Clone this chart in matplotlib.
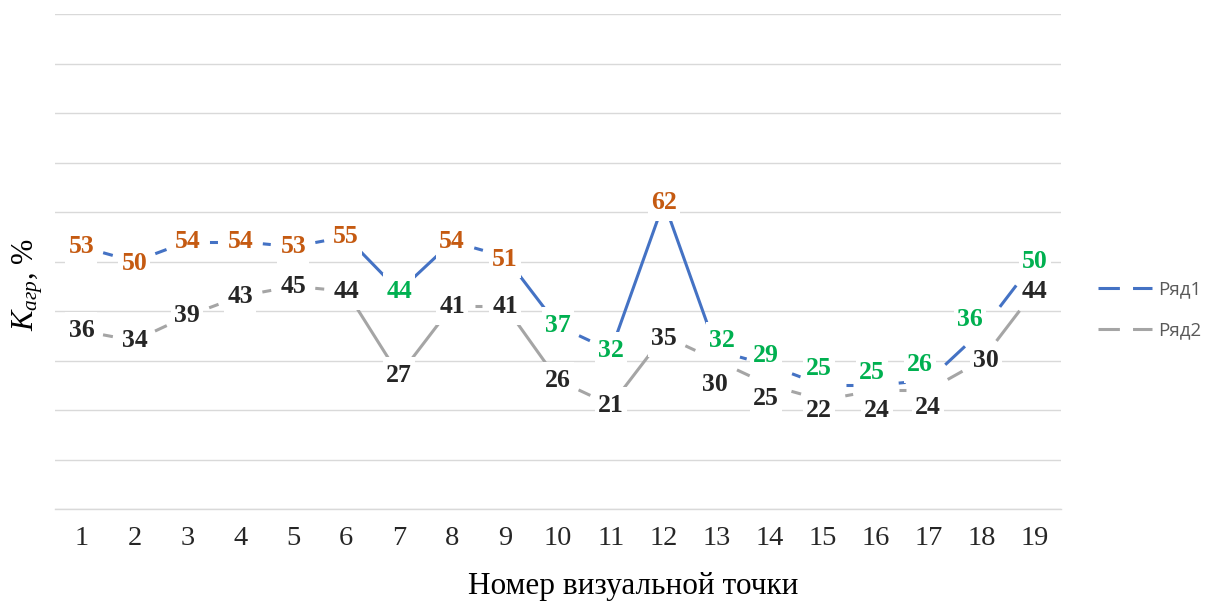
import matplotlib
matplotlib.use("Agg")
import numpy as np
import matplotlib.pyplot as plt
import matplotlib.transforms as mtransforms
from matplotlib.lines import Line2D
from matplotlib.patches import Rectangle

points = list(range(1, 20))
series1 = [53, 50, 54, 54, 53, 55, 44, 54, 51, 37, 32, 62, 32, 29, 25, 25, 26, 36, 50]
series2 = [36, 34, 39, 43, 45, 44, 27, 41, 41, 26, 21, 35, 30, 25, 22, 24, 24, 30, 44]
label_color1 = ["o", "o", "o", "o", "o", "o", "g", "o", "o", "g", "g", "o", "g", "g", "g", "g", "g", "g", "g"]
series_names = ["Ряд1", "Ряд2"]
# segment style: 0 = solid, otherwise length (px) of the single dash visible mid-segment
seg1 = [10, 12, 8, 8, 9, 0, 0, 9, 0, 12, 0, 0, 7, 9, 7, 7, 27, 27]
seg2 = [10, 13, 10, 9, 9, 0, 0, 7, 0, 13, 0, 11, 14, 10, 8, 7, 17, 38]
# manual data-label shifts (pixels, +y = up), keyed by point number
shift1 = {2: (0, -2), 9: (0, -3), 13: (5, 10), 14: (-4, 10), 15: (-4, 17), 16: (-4, 13), 17: (-9, 16), 18: (-12, 11)}
shift2 = {12: (0, -3), 13: (-2, -24), 14: (-4, -13), 15: (-4, -10), 16: (1, -20), 17: (-1, -17), 18: (4, 0)}

plt.rcParams["mathtext.fontset"] = "custom"
plt.rcParams["mathtext.rm"] = "Liberation Serif"
plt.rcParams["mathtext.it"] = "Liberation Serif:italic"

fig = plt.figure(figsize=(12.1, 6.05), dpi=100)
ax = fig.add_axes([55 / 1210, 96 / 605, 1006 / 1210, 495 / 605])

BLUE = "#4472C4"
GRAY = "#A5A5A5"
ORANGE = "#C55A11"
GREEN = "#00B050"
DARK = "#262626"
cmap = {"o": ORANGE, "g": GREEN}
LEG_DASH = (7, 4.3)
LW = 2.2
PX = 0.72  # points per pixel at 100 dpi
BOX_W, BOX_H = 32, 37  # label background size in pixels

ax.set_xlim(0.5, 19.5)
ax.set_ylim(0, 100)

def draw(vals, segs, color):
    f = PX / LW  # pixels -> dash units
    for i in range(len(vals) - 1):
        xs, ys = points[i:i + 2], vals[i:i + 2]
        kw = dict(color=color, lw=LW, solid_capstyle="butt", dash_capstyle="butt", zorder=3)
        d = segs[i]
        if d == 0:
            ax.plot(xs, ys, linestyle="-", **kw)
        else:
            p = ax.transData.transform(np.column_stack([xs, ys]))
            L = float(np.hypot(*(p[1] - p[0])))
            on, off = d * f, 1000.0
            s = (L / 2 - d / 2) * f
            ax.plot(xs, ys, linestyle=(on + off - s, (on, off)), **kw)

draw(series1, seg1, BLUE)
draw(series2, seg2, GRAY)

font_lbl = dict(family="Liberation Serif", fontsize=18.5, fontweight="bold")

def labels(vals, colors, shifts):
    for x, v, c in zip(points, vals, colors):
        dx, dy = shifts.get(x, (0, 0))
        tr = mtransforms.Affine2D().translate(dx, dy) + mtransforms.ScaledTranslation(x, v, ax.transData)
        ax.add_patch(Rectangle((-BOX_W / 2, -BOX_H / 2), BOX_W, BOX_H, transform=tr,
                               fc="white", ec="none", zorder=4, clip_on=False))
        ax.annotate(str(v), (x, v), xytext=(dx * PX, dy * PX), textcoords="offset points",
                    ha="center", va="center", color=c, zorder=5, **font_lbl)

labels(series1, [cmap[c] for c in label_color1], shift1)
labels(series2, [DARK] * len(series2), shift2)

ax.set_yticks(range(0, 101, 10))
ax.set_yticklabels([])
ax.tick_params(axis="y", length=0)
ax.grid(axis="y", color="#D9D9D9", lw=1, zorder=0)
ax.set_axisbelow(True)
ax.set_xticks(points)
ax.set_xticklabels([str(p) for p in points], family="Liberation Serif", fontsize=20.5, color=DARK)
ax.tick_params(axis="x", length=0, pad=12.5)
for s in ["top", "right", "left"]:
    ax.spines[s].set_visible(False)
ax.spines["bottom"].set_color("#D9D9D9")
ax.spines["bottom"].set_linewidth(1)

fig.text(633 / 1210, 1 - 594 / 605, "Номер визуальной точки", ha="center", va="baseline",
         family="Liberation Serif", fontsize=22.5, color="black")
fig.text(28 / 1210, 1 - 285 / 605, r"$K_{агр}$, %", rotation=90, ha="center", va="center",
         family="Liberation Serif", fontsize=22)

handles = [Line2D([], [], color=BLUE, lw=LW, linestyle=(0, LEG_DASH)),
           Line2D([], [], color=GRAY, lw=LW, linestyle=(0, LEG_DASH))]
fig.legend(handles, series_names, loc="center left", bbox_to_anchor=(1098 / 1210, 1 - 310 / 605),
           frameon=False, handlelength=2.9, handletextpad=0.3, labelspacing=1.25,
           borderaxespad=0, borderpad=0,
           prop=dict(family="Open Sans", size=13.5), labelcolor="#595959")

fig.savefig("out.png", dpi=100)
